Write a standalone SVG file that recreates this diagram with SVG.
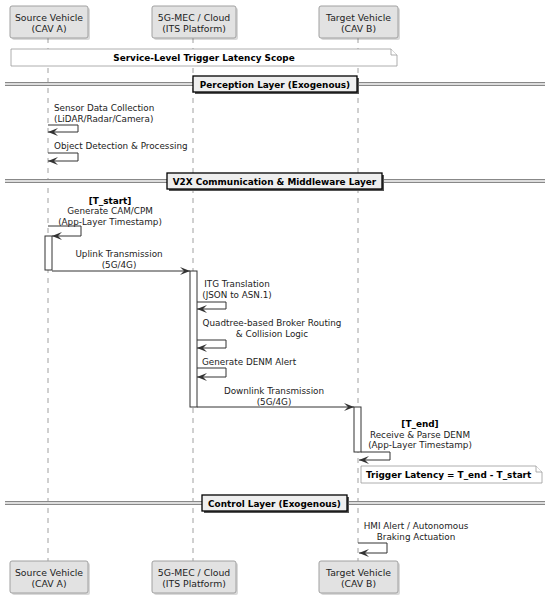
<svg xmlns="http://www.w3.org/2000/svg" width="550" height="596" viewBox="0 0 550 596">
<style>
text{font-family:"DejaVu Sans","Liberation Sans",sans-serif;fill:#222}
.p{font-size:9.3px;text-anchor:middle}
.m{font-size:8.8px}
.mc{font-size:8.8px;text-anchor:middle}
.b{font-weight:bold;font-size:8.9px;fill:#000}
.pbox{fill:#E2E2E2;stroke:#A0A0A0;stroke-width:1}
.shadow{fill:#000;opacity:0.15}
.life{stroke:#A0A0A0;stroke-width:1;stroke-dasharray:5,5;fill:none}
.msg{stroke:#333;stroke-width:1;fill:none;marker-end:url(#ah)}
.act{fill:#fff;stroke:#333;stroke-width:1}
.note{fill:#fff;stroke:#999;stroke-width:0.8}
.div{stroke:#888;stroke-width:1}
.divfill{fill:#ddd}
.dbox{fill:#EEEEEE;stroke:#000;stroke-width:1.3}
</style>
<defs>
<marker id="ah" viewBox="0 0 10 8" refX="10" refY="4" markerWidth="10" markerHeight="8" markerUnits="userSpaceOnUse" orient="auto">
<path d="M0,0 L10,4 L0,8 L4,4 z" fill="#333"/>
</marker>
</defs>
<rect width="550" height="596" fill="#fff"/>

<g id="lifelines">
<line class="life" x1="48" y1="38" x2="48" y2="561"/>
<line class="life" x1="193" y1="38" x2="193" y2="561"/>
<line class="life" x1="358" y1="38" x2="358" y2="561"/>
</g>

<g id="participant-source-top">
<rect class="shadow" x="12" y="8" width="78" height="32" rx="2"/>
<rect class="pbox" x="10" y="6" width="78" height="32" rx="2"/>
<text class="p" x="49" y="20.5">Source Vehicle</text>
<text class="p" x="49" y="31.5">(CAV A)</text>
</g>
<g id="participant-mec-top">
<rect class="shadow" x="154" y="8" width="84" height="32" rx="2"/>
<rect class="pbox" x="152" y="6" width="84" height="32" rx="2"/>
<text class="p" x="194" y="20.5">5G-MEC / Cloud</text>
<text class="p" x="194" y="31.5">(ITS Platform)</text>
</g>
<g id="participant-target-top">
<rect class="shadow" x="321" y="8" width="79" height="32" rx="2"/>
<rect class="pbox" x="319" y="6" width="79" height="32" rx="2"/>
<text class="p" x="358.5" y="20.5">Target Vehicle</text>
<text class="p" x="358.5" y="31.5">(CAV B)</text>
</g>

<g id="note-scope">
<path class="note" d="M11,49 H391 L397,55 V66 H11 Z"/>
<path class="note" d="M391,49 V55 H397"/>
<text class="b" x="204" y="61" text-anchor="middle">Service-Level Trigger Latency Scope</text>
</g>

<g id="divider-perception">
<rect class="divfill" x="5" y="82.5" width="540" height="3"/>
<line class="div" x1="5" y1="82.5" x2="545" y2="82.5"/>
<line class="div" x1="5" y1="85.5" x2="545" y2="85.5"/>
<rect x="195" y="78" width="164" height="16" fill="#555"/>
<rect class="dbox" x="193" y="76" width="164" height="16"/>
<text class="b" x="275" y="87.5" text-anchor="middle">Perception Layer (Exogenous)</text>
</g>

<g id="divider-v2x">
<rect class="divfill" x="5" y="179.5" width="540" height="3"/>
<line class="div" x1="5" y1="179.5" x2="545" y2="179.5"/>
<line class="div" x1="5" y1="182.5" x2="545" y2="182.5"/>
<rect x="169" y="175" width="215" height="16" fill="#555"/>
<rect class="dbox" x="167" y="173" width="215" height="16"/>
<text class="b" x="274.5" y="184.5" text-anchor="middle">V2X Communication &amp; Middleware Layer</text>
</g>

<g id="divider-control">
<rect class="divfill" x="5" y="501.5" width="540" height="3"/>
<line class="div" x1="5" y1="501.5" x2="545" y2="501.5"/>
<line class="div" x1="5" y1="504.5" x2="545" y2="504.5"/>
<rect x="204" y="497" width="145" height="16" fill="#555"/>
<rect class="dbox" x="202" y="495" width="145" height="16"/>
<text class="b" x="274.5" y="506.5" text-anchor="middle">Control Layer (Exogenous)</text>
</g>

<g id="activations">
<rect class="act" x="45" y="236" width="7" height="34"/>
<rect class="act" x="190" y="271" width="7" height="136"/>
<rect class="act" x="354" y="407" width="7" height="45"/>
</g>

<g id="connectors">
<path class="msg" d="M48,125 H78 V132 H48"/>
<path class="msg" d="M48,153 H78 V161 H48"/>
<path class="msg" d="M48,226 H81 V236 H52"/>
<path class="msg" d="M52,271 H190"/>
<path class="msg" d="M197,302 H226 V309 H197"/>
<path class="msg" d="M197,340 H226 V348 H197"/>
<path class="msg" d="M197,368 H226 V377 H197"/>
<path class="msg" d="M197,407 H354"/>
<path class="msg" d="M361,452 H390 V460 H359"/>
<path class="msg" d="M358,543 H387 V553 H359"/>
</g>

<g id="labels">
<text class="m" x="54" y="111">Sensor Data Collection</text>
<text class="m" x="54" y="122">(LiDAR/Radar/Camera)</text>
<text class="m" x="54" y="148.5">Object Detection &amp; Processing</text>
<text class="mc b" x="110" y="203.5">[T_start]</text>
<text class="mc" x="110" y="214">Generate CAM/CPM</text>
<text class="mc" x="110" y="224.5">(App-Layer Timestamp)</text>
<text class="mc" x="119" y="257">Uplink Transmission</text>
<text class="mc" x="119" y="268">(5G/4G)</text>
<text class="mc" x="237" y="287">ITG Translation</text>
<text class="mc" x="237" y="297.5">(JSON to ASN.1)</text>
<text class="mc" x="272" y="326">Quadtree-based Broker Routing</text>
<text class="mc" x="272" y="336.5">&amp; Collision Logic</text>
<text class="m" x="202" y="365">Generate DENM Alert</text>
<text class="mc" x="274" y="394">Downlink Transmission</text>
<text class="mc" x="274" y="404.5">(5G/4G)</text>
<text class="mc b" x="420" y="427">[T_end]</text>
<text class="mc" x="420" y="437.5">Receive &amp; Parse DENM</text>
<text class="mc" x="420" y="448">(App-Layer Timestamp)</text>
<text class="mc" x="416" y="529">HMI Alert / Autonomous</text>
<text class="mc" x="416" y="540">Braking Actuation</text>
</g>

<g id="note-latency">
<path class="note" d="M361,466 H536 L542,472 V483 H361 Z"/>
<path class="note" d="M536,466 V472 H542"/>
<text class="b" x="366" y="478">Trigger Latency = T_end - T_start</text>
</g>

<g id="participant-source-bottom">
<rect class="shadow" x="12" y="563" width="78" height="32" rx="2"/>
<rect class="pbox" x="10" y="561" width="78" height="32" rx="2"/>
<text class="p" x="49" y="575.5">Source Vehicle</text>
<text class="p" x="49" y="586.5">(CAV A)</text>
</g>
<g id="participant-mec-bottom">
<rect class="shadow" x="154" y="563" width="84" height="32" rx="2"/>
<rect class="pbox" x="152" y="561" width="84" height="32" rx="2"/>
<text class="p" x="194" y="575.5">5G-MEC / Cloud</text>
<text class="p" x="194" y="586.5">(ITS Platform)</text>
</g>
<g id="participant-target-bottom">
<rect class="shadow" x="321" y="563" width="79" height="32" rx="2"/>
<rect class="pbox" x="319" y="561" width="79" height="32" rx="2"/>
<text class="p" x="358.5" y="575.5">Target Vehicle</text>
<text class="p" x="358.5" y="586.5">(CAV B)</text>
</g>
</svg>
